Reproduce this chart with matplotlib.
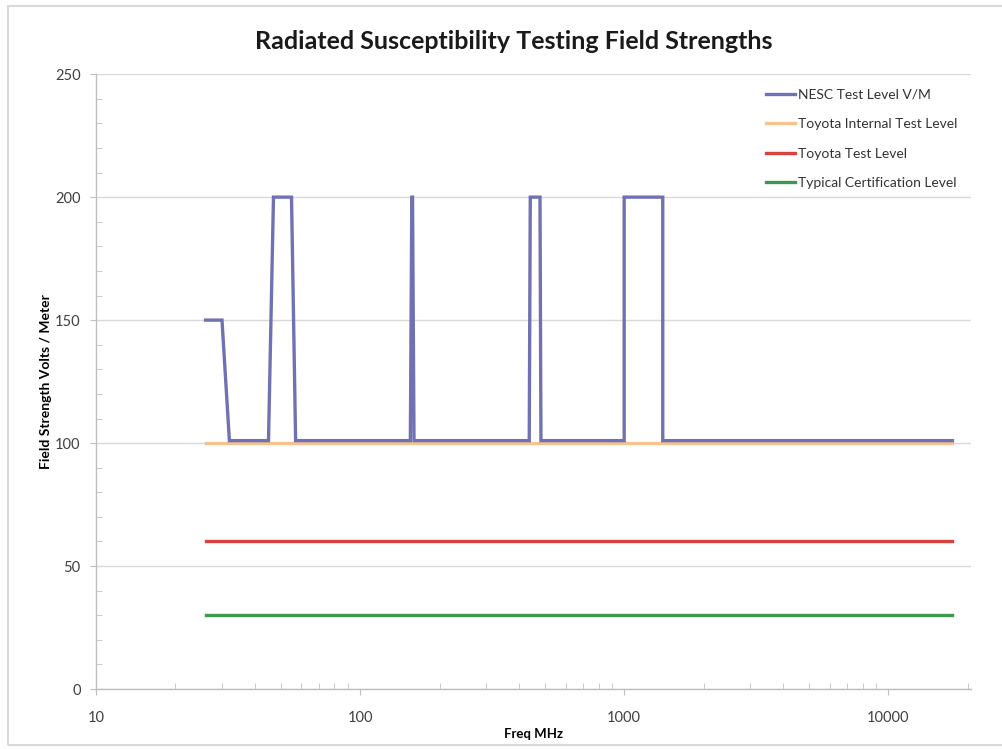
#!/usr/bin/env python
import numpy as np
import matplotlib
matplotlib.use('Agg')
import matplotlib.pyplot as plt
from matplotlib.patches import Rectangle
from matplotlib.ticker import LogLocator, MultipleLocator, FixedLocator, FixedFormatter

# Data (frequency in MHz, field strength in V/m)
nesc_freq = [26, 30, 32, 45, 47, 55, 57, 155, 157, 158, 160, 437, 441, 480, 484, 1000, 1000, 1400, 1400, 17500]
nesc_val = [150, 150, 101, 101, 200, 200, 101, 101, 200, 200, 101, 101, 200, 200, 101, 101, 200, 200, 101, 101]
flat_freq = [26, 17500]
toyota_internal = [100, 100]
toyota_test = [60, 60]
typical_cert = [30, 30]

labels = ['NESC Test Level V/M', 'Toyota Internal Test Level', 'Toyota Test Level', 'Typical Certification Level']
colors = ['#7071B3', '#F8C28F', '#D8413C', '#3F9850']
x_ticks = [10, 100, 1000, 10000]
x_ticklabels = ['10', '100', '1000', '10000']
y_ticks = [0, 50, 100, 150, 200, 250]

plt.rcParams['font.family'] = ['Lato', 'DejaVu Sans']

fig = plt.figure(figsize=(10.03, 7.49), dpi=100, facecolor='w')
ax1 = fig.add_axes([0.0957, 0.080, 0.872, 0.821])

# Outer frame of chart area
fig.patches.append(Rectangle((0.008, 0.005), 0.995, 0.987, transform=fig.transFigure,
                             fill=False, edgecolor='#D9D9D9', linewidth=1.5))

lw = 2.4
ax1.plot(nesc_freq, nesc_val, color=colors[0], lw=lw, label=labels[0], zorder=4, solid_joinstyle='miter')
ax1.plot(flat_freq, toyota_internal, color=colors[1], lw=lw, label=labels[1], zorder=3)
ax1.plot(flat_freq, toyota_test, color=colors[2], lw=lw, label=labels[2], zorder=3)
ax1.plot(flat_freq, typical_cert, color=colors[3], lw=lw, label=labels[3], zorder=3)

ax1.set_xscale('log')
ax1.set_xlim(10, 20500)
ax1.set_ylim(0, 250)
ax1.xaxis.set_major_locator(FixedLocator(x_ticks))
ax1.xaxis.set_major_formatter(FixedFormatter(x_ticklabels))
ax1.xaxis.set_minor_locator(LogLocator(base=10, subs=np.arange(2, 10)))
ax1.xaxis.set_minor_formatter(FixedFormatter([]))
ax1.yaxis.set_major_locator(FixedLocator(y_ticks))
ax1.yaxis.set_minor_locator(MultipleLocator(10))

ax1.grid(axis='y', which='major', color='#D9D9D9', lw=1.0)
ax1.set_axisbelow(True)
for s in ['top', 'right']:
    ax1.spines[s].set_visible(False)
for s in ['left', 'bottom']:
    ax1.spines[s].set_color('#BFBFBF')
    ax1.spines[s].set_linewidth(1.0)

ax1.tick_params(which='major', direction='out', length=4, color='#BFBFBF', labelcolor='#404040', labelsize=10.5)
ax1.tick_params(which='minor', direction='in', length=4, color='#BFBFBF')
ax1.tick_params(axis='y', which='major', pad=7)
ax1.tick_params(axis='x', which='major', pad=12)

ax1.set_xlabel('Freq MHz', fontsize=9.5, fontweight='bold', labelpad=2)
ax1.set_ylabel('Field Strength Volts / Meter', fontsize=10, fontweight='bold', labelpad=2)

fig.text(0.512, 0.945, 'Radiated Susceptibility Testing Field Strengths', ha='center', va='center',
         fontsize=18, fontweight='bold', color='#1A1A1A')

leg = ax1.legend(loc='upper left', bbox_to_anchor=(0.76, 0.985), frameon=False, fontsize=10,
                 handlelength=2.1, handletextpad=0.15, labelspacing=1.25, borderaxespad=0)
for t in leg.get_texts():
    t.set_color('#333333')

plt.savefig('out.png', dpi=100)
